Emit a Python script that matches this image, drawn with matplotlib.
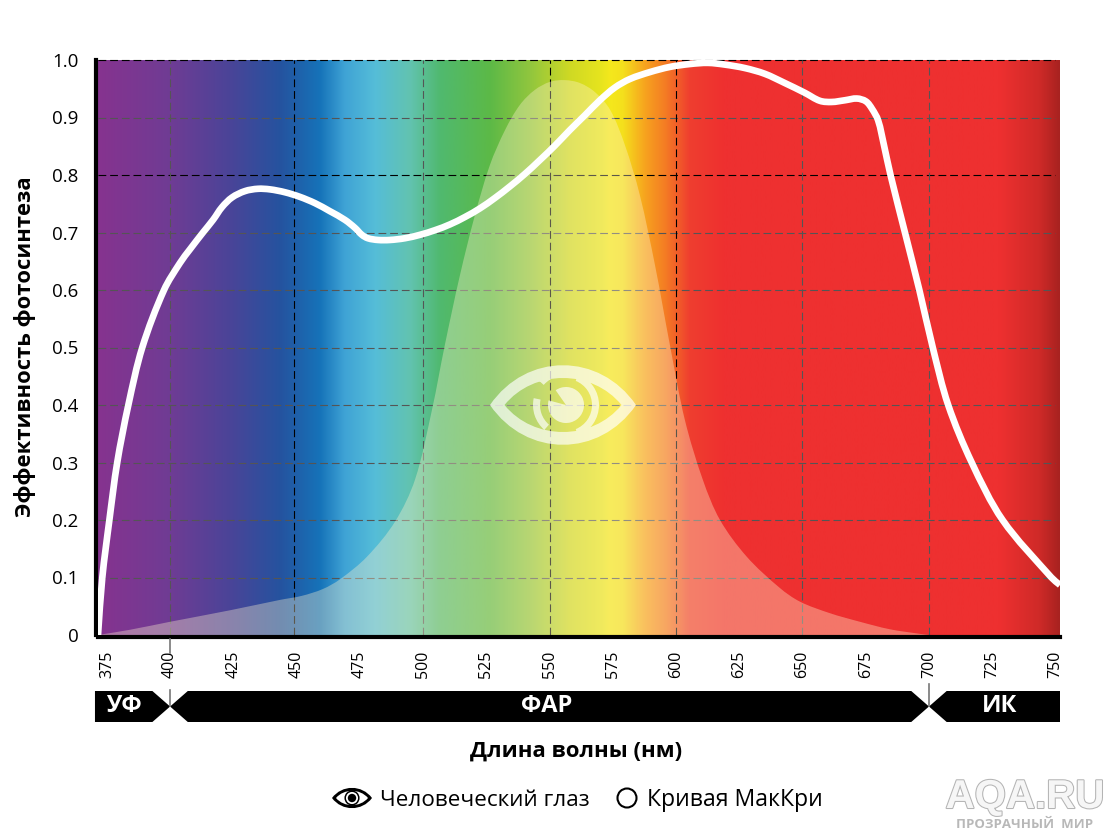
import matplotlib
matplotlib.use("Agg")
import numpy as np
import matplotlib.pyplot as plt
import matplotlib.patheffects as pe
from matplotlib.colors import LinearSegmentedColormap
from matplotlib.patches import Circle, PathPatch, Polygon, Wedge
from matplotlib.path import Path
from matplotlib.transforms import Affine2D

plt.rcParams['font.family'] = ['Open Sans', 'DejaVu Sans']

# McCree curve
mccree_nm = [371.5, 373.2, 376.0, 379.1, 383.5, 389.0, 397.6, 403.9, 407.9, 413.0,
             417.0, 420.5, 424.5, 429.6, 434.7, 439.5, 445.4, 451.3, 457.3,
             463.2, 469.1, 473.1, 475.8, 478.2, 482.2, 486.9, 492.8, 498.8, 504.7, 510.6, 516.6,
             522.5, 528.4, 534.3, 540.3, 546.2, 552.1, 558.0, 564.0, 569.9, 575.8, 581.8, 589.7,
             597.6, 605.5, 612.6, 619.3, 627.2, 635.1, 643.0, 650.9, 656.9, 661.6, 666.8, 671.5,
             675.1, 677.5, 679.9, 682.3, 684.8, 690.5, 696.2, 701.5, 707.6, 716.9,
             729.1, 748.4, 751.8]
mccree_val = [0, .100, .200, .300, .400, .500, .600, .647, .671, .700,
              .722, .744, .761, .772, .776, .775, .770, .762, .751,
              .737, .722, .708, .696, .690, .687, .687, .690, .696, .704, .714, .727,
              .742, .760, .780, .802, .826, .851, .878, .904, .930, .952, .967, .979,
              .988, .993, .995, .992, .986, .976, .960, .943, .929, .927, .930, .933,
              .928, .915, .895, .850, .800, .700, .600, .500, .400, .300,
              .200, .100, .087]

# human eye sensitivity
eye_nm = [371.5, 384, 400, 423.7, 443.4, 452, 460.4, 467.2, 477.8, 488.9, 496.8, 503.5, 508.6, 514.6, 520.5,
          526.4, 532.4, 538.3, 544.2, 550.2, 556, 562, 568, 574, 579.8, 585.7, 591.7, 597.6,
          603.5, 610.6, 617.4, 628, 641, 649, 660.8, 672.7, 684.5, 696.4, 700]
eye_val = [0, .009, .023, .043, .061, .068, .080, .097, .136, .197, .270, .391, .504, .626, .730,
           .817, .878, .922, .948, .962, .965, .960, .944, .913, .852, .765, .643, .504,
           .374, .270, .200, .136, .082, .058, .038, .023, .010, .002, 0]

# spectrum background colour stops
spec_nm = [371.5, 400, 423.7, 443.5, 459.3, 469, 481, 494.8, 506.7, 526.4, 542.2, 558,
           570, 574, 579, 588, 596, 605.5, 619, 728, 743.8, 751.8]
spec_col = ['#86338f', '#6f3c94', '#4a4498', '#25539f', '#1673b9', '#3fa3d5', '#55bdd8',
            '#62c3b0', '#50b96f', '#5cb947', '#90c63e', '#cfd924', '#e6e41e', '#f4e81c', '#f4e01c',
            '#f7a21f', '#f47b24', '#ef3e2f', '#ee3030', '#ee3030', '#cf2a28', '#a82220']

tick_nm = [375, 400, 425, 450, 475, 500, 525, 550, 575, 600, 625, 650, 675, 700, 725, 750]
y_ticks = [0, .1, .2, .3, .4, .5, .6, .7, .8, .9, 1.0]
y_labels = ['0', '0.1', '0.2', '0.3', '0.4', '0.5', '0.6', '0.7', '0.8', '0.9', '1.0']
grid_x = [400, 449, 500, 550, 600, 650, 700]
grid_x_dark = [449, 550, 600]
grid_y_dark = [.8, 1.0]
band_names = ['УФ', 'ФАР', 'ИК']
band_edges = [400, 700]
band_label_nm = [381.8, 549, 728]

XMIN, XMAX = 371.5, 751.8
W, H = 1112, 835


def smooth(xs, ys):
    # bezier handles through the read points, worked out in screen proportions
    scale = np.array([962 / (XMAX - XMIN), 575.0])
    q = np.column_stack([xs, ys]).astype(float) * scale
    n_pts = len(q)
    tang = np.zeros_like(q)
    for i in range(n_pts):
        d = q[min(i + 1, n_pts - 1)] - q[max(i - 1, 0)]
        tang[i] = d / np.hypot(*d)
    verts = [q[0]]
    for i in range(n_pts - 1):
        seg = np.hypot(*(q[i + 1] - q[i]))
        verts += [q[i] + tang[i] * seg / 3, q[i + 1] - tang[i + 1] * seg / 3, q[i + 1]]
    return np.array(verts) / scale


fig = plt.figure(figsize=(W / 100, H / 100), dpi=100)
ax = fig.add_axes([98 / W, 1 - 635 / H, 962 / W, 575 / H])
ax.set_xlim(XMIN, XMAX)
ax.set_ylim(0, 1)

# pixel coordinates of the picture, y going down
px = Affine2D().scale(1 / W, -1 / H).translate(0, 1) + fig.transFigure

# gradient
pos = [(n - XMIN) / (XMAX - XMIN) for n in spec_nm]
cmap = LinearSegmentedColormap.from_list('spec', list(zip(pos, spec_col)), N=1024)
ax.imshow(np.linspace(0, 1, 1024).reshape(1, -1), cmap=cmap, aspect='auto',
          extent=[XMIN, XMAX, 0, 1], zorder=0)

# grid
for g in y_ticks[1:]:
    dark = g in grid_y_dark
    ax.plot([XMIN, 750], [g, g], color='black' if dark else '#555555', lw=0.8,
            dashes=(7, 3.5), zorder=1, clip_on=False)
for g in grid_x:
    dark = g in grid_x_dark
    ax.plot([g, g], [0, 1], color='black' if dark else '#555555', lw=0.8,
            dashes=(7, 3.5), zorder=1)

# eye curve as a filled area, closed along the axis
ev = smooth(eye_nm, eye_val)
ev = np.vstack([ev, ev[0]])
ecodes = [Path.MOVETO] + [Path.CURVE4] * (len(ev) - 2) + [Path.LINETO]
ax.add_patch(PathPatch(Path(ev, ecodes), fc='#fff4d0', ec='none', alpha=0.36, zorder=2))

mv = smooth(mccree_nm, mccree_val)
mcodes = [Path.MOVETO] + [Path.CURVE4] * (len(mv) - 1)
ax.add_patch(PathPatch(Path(mv, mcodes), fc='none', ec='white', lw=4.8, capstyle='butt',
                       joinstyle='round', zorder=4))

# axes look
for s in ['top', 'right']:
    ax.spines[s].set_visible(False)
for s in ['left', 'bottom']:
    ax.spines[s].set_linewidth(3)
    ax.spines[s].set_position(('outward', 1.5))
ax.set_xticks(tick_nm)
ax.set_xticklabels([str(t) for t in tick_nm], rotation=90, fontsize=11.5)
ax.set_yticks(y_ticks)
ax.set_yticklabels(y_labels, fontsize=13.5)
ax.tick_params(axis='x', length=0, pad=10)
ax.tick_params(axis='y', length=0, pad=12.5)

fig.text(25 / W, 1 - 347 / H, 'Эффективность фотосинтеза', rotation=90, ha='center', va='center',
         fontsize=15.8, fontweight='bold')
fig.text(576 / W, 1 - 751 / H, 'Длина волны (нм)', ha='center', va='center',
         fontsize=16, fontweight='bold')


def lens(cx, cy, w, h):
    # lens shaped outline, pointed at both ends
    return [(cx - w / 2, cy), (cx - w / 4, cy - h), (cx + w / 4, cy - h), (cx + w / 2, cy),
            (cx + w / 4, cy + h), (cx - w / 4, cy + h), (cx - w / 2, cy)]


LENS_CODES = [Path.MOVETO] + [Path.CURVE4] * 6

# big pale eye inside the plot, one compound path so the alpha stays even
eye_parts = [Path(lens(563, 405, 146, 53) + lens(563, 405, 117, 36)[::-1], LENS_CODES * 2)]
for r, t1, t2, wd in [(33, -68, 68, 7), (33, 131, 192, 7), (38, 222, 240, 8), (18, 235, 555, None)]:
    eye_parts.append(Wedge((566, 405), r, t1, t2, width=wd).get_path())
fig.add_artist(PathPatch(Path.make_compound_path(*eye_parts), fc='white', ec='none',
                         alpha=0.68, transform=px, zorder=3))

# legend
fig.add_artist(PathPatch(Path(lens(352, 798, 40, 13.5) + lens(352, 798, 32, 9.5)[::-1], LENS_CODES * 2),
                         fc='black', ec='none', transform=px))
fig.add_artist(Circle((352, 798), 6.8, fc='none', ec='black', lw=1.1, transform=px))
fig.add_artist(Circle((352, 798), 4.2, fc='black', ec='none', transform=px))
fig.text(380 / W, 1 - 800 / H, 'Человеческий глаз', ha='left', va='center', fontsize=16.2)
fig.add_artist(Circle((627, 798), 9.5, fc='white', ec='black', lw=1.5, transform=px))
fig.text(647 / W, 1 - 800 / H, 'Кривая МакКри', ha='left', va='center', fontsize=16.6)

# band bar below the axis
ax_band = fig.add_axes([98 / W, 1 - 722 / H, 962 / W, 31 / H])
ax_band.set_xlim(XMIN, XMAX)
ax_band.set_ylim(0, 1)
ax_band.axis('off')
n = 7.0  # notch half width in nm
a, b = band_edges
bands = [
    [(XMIN - 1.2, 0), (a - n, 0), (a, .5), (a - n, 1), (XMIN - 1.2, 1)],
    [(a + n, 0), (b - n, 0), (b, .5), (b - n, 1), (a + n, 1), (a, .5)],
    [(b + n, 0), (XMAX, 0), (XMAX, 1), (b + n, 1), (b, .5)],
]
for verts in bands:
    ax_band.add_patch(Polygon(verts, closed=True, fc='black', ec='none', clip_on=False))
for name, xc in zip(band_names, band_label_nm):
    ax_band.text(xc, .5, name, color='white', ha='center', va='center', fontsize=17, fontweight='bold')

# grey leaders from the axis to the notches
for e, y0, y1 in [(a, 639, 653), (a, 690, 706), (b, 684, 706)]:
    xp = 98 + (e - XMIN) * 962 / (XMAX - XMIN)
    fig.add_artist(plt.Line2D([xp, xp], [y0, y1], color='#777777', lw=1.2, transform=px))

# watermark
fig.text(1025 / W, 1 - 797 / H, 'AQA.RU', ha='center', va='center', fontsize=29, color='#f6f6f6',
         family=['Liberation Sans'], fontweight='bold',
         path_effects=[pe.withStroke(linewidth=1.5, foreground='#b4b4b4')])
fig.text(1025 / W, 1 - 824 / H, 'ПРОЗРАЧНЫЙ  МИР', ha='center', va='center', fontsize=9.5,
         color='#b8b8b8', fontweight='bold')

fig.savefig('out.png', dpi=100)
